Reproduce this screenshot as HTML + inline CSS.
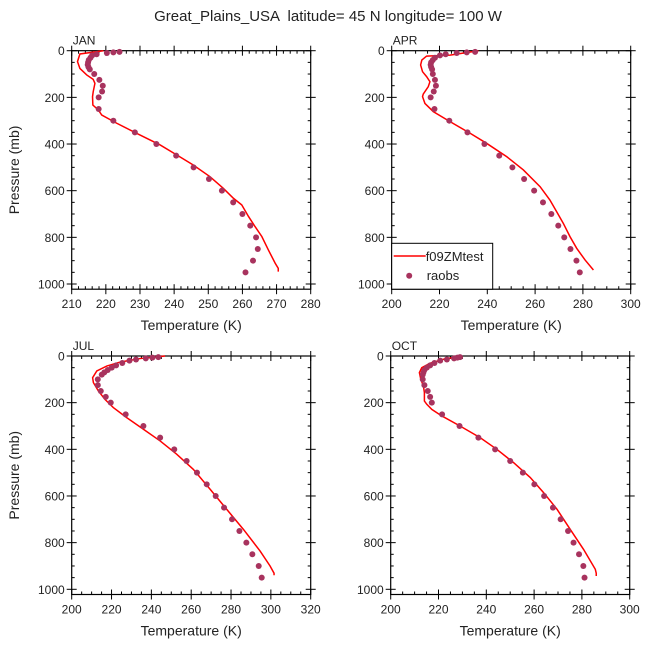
<!DOCTYPE html>
<html><head><meta charset="utf-8"><style>
body{margin:0;background:#fff}
svg text{font-family:"Liberation Sans",sans-serif;fill:#222}
</style></head><body>
<svg id="c" width="648" height="648" viewBox="0 0 648 648" xmlns="http://www.w3.org/2000/svg">
<text x="328" y="21" text-anchor="middle" font-size="15" style="white-space:pre">Great_Plains_USA  latitude= 45 N longitude= 100 W</text>
</svg>
<script>
const obsP=[5,7,10,15,20,30,40,50,60,70,80,100,125,150,175,200,250,300,350,400,450,500,550,600,650,700,750,800,850,900,950];
const janObs=[224,222.2,220.3,217.3,216,215.5,215,214.8,214.7,214.9,215.3,216.6,218.1,219.1,218.9,217.9,217.9,222.2,228.5,234.8,240.6,245.7,250.2,254,257.3,260,262.3,264,264.5,263.1,260.9];
const aprObs=[234.9,231.4,227.2,222.6,220.2,218.1,217.2,216.5,216.3,216.5,216.9,217.2,218.1,218.5,217.6,216.3,217.9,224.1,231.7,238.8,245,250.5,255.4,259.6,263.3,266.8,269.7,272.2,274.8,277.3,278.7];
const julObs=[243.5,240.5,237.2,232.3,229,225.4,222.3,220.1,218.1,216.4,215.1,213.1,213.1,214.6,217.1,219.6,227.1,236,244.4,251.5,257.7,262.9,267.8,272.3,276.5,280.5,284.2,287.7,290.7,293.9,295.4];
const octObs=[229,227.9,226.5,223.5,220.7,218.3,216.5,215.1,214.1,213.7,213.4,213.4,214.1,215.5,216.5,217.2,221.5,228.8,236.7,243.7,250,255.3,260.1,264.2,267.9,271.1,274.2,276.5,278.8,280.6,281.1];
const janModP=[0,14,47,76,104,123,140,176,197,233,254,276,311,354,404,447,490,540,590,633,661,711,754,797,854,911,933,947];
const janModT=[219.3,212.4,211.7,212.4,214.4,216.3,216.8,216.3,216.1,216.2,217.8,218.8,223.2,229,235.9,240.8,245.6,250.5,254.4,257.4,259.8,261.8,263.7,265.7,267.6,269.6,270.5,270.5];
const aprModP=[0,19,23,40,61,90,111,133,154,186,197,226,261,304,354,397,454,511,583,640,690,740,797,847,897,940];
const aprModT=[236.3,224.4,214.6,212.6,212.1,212.9,214.6,216,215.3,213.2,212.9,213.9,217.4,224.4,232.8,239.7,248.1,255.1,262.1,266.2,269,271.8,274.6,277.4,280.9,284.4];
const julModP=[0,11,26,43,64,93,114,150,186,221,264,314,364,421,486,571,657,743,836,900,931,940];
const julModT=[246.9,234.3,224.3,217.6,212.6,210.5,210.9,213.4,216.7,220.9,227.6,236,244.4,252.7,261.1,269.5,277.8,286.2,294.6,299.6,301.6,301.6];
const octModP=[0,14,31,50,71,100,129,157,193,207,229,257,300,350,400,457,521,586,657,743,829,914,931,943];
const octModT=[229.7,222.1,216.5,213,212,212.6,213.7,214.1,214.1,215.1,217.2,221.4,229,237.4,244.4,251.4,258.4,264,269.6,275.1,280.7,285.6,286,286];
const yTicks=[0,200,400,600,800,1000];
const janX=[210,220,230,240,250,260,270,280];
const aprX=[200,220,240,260,280,300];
const julX=[200,220,240,260,280,300,320];
const octX=[200,220,240,260,280,300];

const NS='http://www.w3.org/2000/svg';
const svg=document.getElementById('c');
function mk(tag,attrs,parent){const e=document.createElementNS(NS,tag);for(const k in attrs)e.setAttribute(k,attrs[k]);(parent||svg).appendChild(e);return e;}
function panel(name,L,T0,xt,minorStep,obs,mP,mT,legend){
  const R=L+239,B=T0+238.5,xmin=xt[0],xmax=xt[xt.length-1];
  const xs=v=>L+(v-xmin)/(xmax-xmin)*(R-L);
  const ys=p=>T0+p/1000*233.3;
  const g=mk('g',{});
  
  
  mk('rect',{x:L,y:T0,width:R-L,height:B-T0,fill:'none',stroke:'#000','stroke-width':1.2},g);
  for(let p=0;p<=1000;p+=50){const y=ys(p);const maj=p%200==0;
    mk('line',{x1:maj?L-5:L,x2:L+(maj?5:3),y1:y,y2:y,stroke:'#000','stroke-width':1},g);
    mk('line',{x1:R-(maj?5:3),x2:maj?R+5:R,y1:y,y2:y,stroke:'#000','stroke-width':1},g);}
  yTicks.forEach(p=>{const t=mk('text',{x:L-7,y:ys(p)+4.5,'text-anchor':'end','font-size':12},g);t.textContent=p;
    
    });
  for(let v=xmin;v<=xmax+1e-6;v+=minorStep){const x=xs(v);const maj=xt.some(q=>Math.abs(q-v)<1e-6);
    mk('line',{x1:x,x2:x,y1:B-(maj?5:3),y2:maj?B+5:B,stroke:'#000','stroke-width':1},g);
    mk('line',{x1:x,x2:x,y1:maj?T0-5:T0,y2:T0+(maj?5:3),stroke:'#000','stroke-width':1},g);}
  xt.forEach(v=>{const t=mk('text',{x:xs(v),y:B+19,'text-anchor':'middle','font-size':12},g);t.textContent=v;
    
    });
  const lab=mk('text',{x:L+1,y:T0-6,'font-size':12},g);lab.textContent=name;
  
  
  const xl=mk('text',{x:(L+R)/2,y:B+41,'text-anchor':'middle','font-size':14},g);xl.textContent='Temperature (K)';
  
  
  if(L<200){const yl=mk('text',{x:0,y:0,'text-anchor':'middle','font-size':14,transform:`translate(19,${(T0+B)/2}) rotate(-90)`},g);yl.textContent='Pressure (mb)';
    
    }
  const line=mk('polyline',{points:mP.map((p,i)=>xs(mT[i])+','+ys(p)).join(' '),fill:'none',stroke:'#ff0000','stroke-width':1.5},g);
  
  
  obs.forEach((v,i)=>{const c=mk('circle',{cx:xs(v),cy:ys(obsP[i]),r:3,fill:'#a8335e'},g);
    
    });
  if(legend){const lg=mk('g',{},g);
    
    
    mk('rect',{x:L,y:243.3,width:101,height:B-243.3,fill:'#fff',stroke:'#000','stroke-width':1},lg);
    mk('line',{x1:L+2,x2:L+34,y1:256,y2:256,stroke:'#ff0000','stroke-width':1.5},lg);
    const t1=mk('text',{x:L+34,y:261,'font-size':13},lg);t1.textContent='f09ZMtest';
    
    
    mk('circle',{cx:L+17.5,cy:275.7,r:3,fill:'#a8335e'},lg);
    const t2=mk('text',{x:L+35,y:280,'font-size':13},lg);t2.textContent='raobs';
    
    }
}
panel('JAN',71.7,50.7,janX,2,janObs,janModP,janModT,false);
panel('APR',391.7,50.7,aprX,5,aprObs,aprModP,aprModT,true);
panel('JUL',71.7,356,julX,5,julObs,julModP,julModT,false);
panel('OCT',390.7,356,octX,5,octObs,octModP,octModT,false);
</script>
</body></html>
